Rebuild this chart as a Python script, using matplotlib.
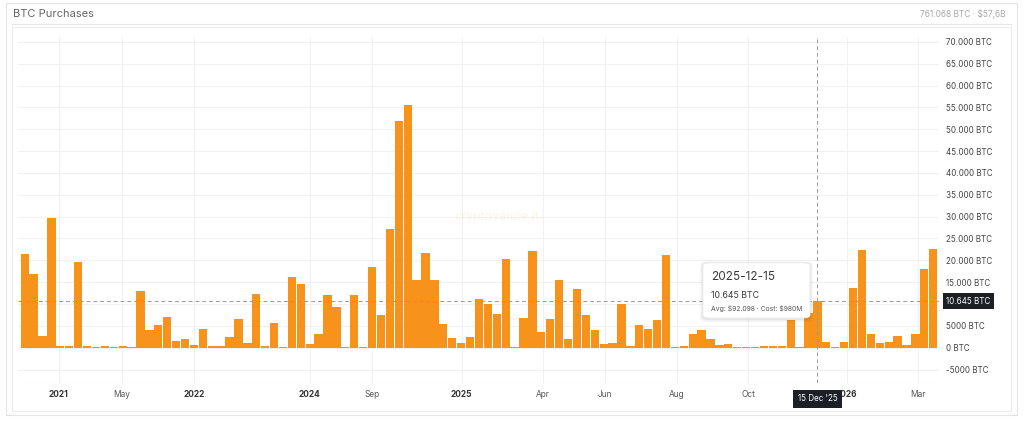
import matplotlib.pyplot as plt
from matplotlib.patches import Rectangle, FancyBboxPatch
from matplotlib.ticker import FuncFormatter

# weekly BTC purchases, thousands of BTC
btc_k = [21.4, 16.9, 2.7, 29.7, 0.4, 0.4, 19.5, 0.3, 0.2, 0.3, 0.2, 0.3, 0.2,
         13.0, 4.0, 5.1, 7.1, 1.5, 2.0, 0.7, 4.2, 0.5, 0.4, 2.5, 6.5, 1.1,
         12.4, 0.5, 5.6, 0.15, 16.2, 14.6, 0.9, 3.1, 12.1, 9.3,
         0.1, 12.0, 0.1, 18.5, 7.4, 27.2, 51.9, 55.5, 15.4, 21.6, 15.4, 5.4,
         2.2, 1.1, 2.5, 11.1, 10.1, 7.8, 20.4, 0.15, 6.9, 22.2, 3.6, 6.6,
         15.4, 2.0, 13.4, 7.5, 4.0, 0.8, 1.1, 10.1, 0.3, 5.1, 4.3, 6.3, 21.1,
         0.2, 0.5, 3.1, 4.0, 2.1, 0.6, 0.8, 0.2, 0.2, 0.1, 0.4, 0.4, 0.5,
         6.3, 0.1, 8.0, 10.645, 1.3, 0.1, 1.4, 13.7, 22.3, 3.1, 1.0, 1.2,
         2.6, 0.6, 3.1, 18.1, 22.5]
btc = [v * 1000 for v in btc_k]

tick_labels = ['2021', 'May', '2022', '2024', 'Sep', '2025', 'Apr', 'Jun',
               'Aug', 'Oct', '2026', 'Mar']
tick_pos = [3.8, 10.9, 19.0, 32.0, 39.0, 49.05, 58.2, 65.1, 73.2, 81.2, 92.3, 100.3]
year_labels = ['2021', '2022', '2024', '2025', '2026']

hover_idx = 89
hover_date = '2025-12-15'
hover_short = "15 Dec '25"
hover_avg = r'\$92.098'
hover_cost = r'\$980M'
total_text = r'761.068 BTC · \$57,6B'

plt.rcParams['font.family'] = ['Inter', 'DejaVu Sans']

W, H = 1024, 422
fig = plt.figure(figsize=(W / 100, H / 100), dpi=100)


def fx(x):
    return x / W


def fy(y):
    return 1 - y / H


# card frames
fig.add_artist(Rectangle((fx(6), fy(415)), fx(1011), (415 - 3) / H,
                         transform=fig.transFigure, fill=False,
                         edgecolor='#e4e4e4', linewidth=0.8))
fig.add_artist(Rectangle((fx(12), fy(411)), fx(999), (411 - 27) / H,
                         transform=fig.transFigure, fill=False,
                         edgecolor='#ececec', linewidth=0.8))
fig.add_artist(plt.Line2D([fx(12), fx(1011)], [fy(23.5), fy(23.5)],
                          transform=fig.transFigure, color='#e6e6e6', linewidth=0.8))
fig.text(fx(13), fy(14), 'BTC Purchases', fontsize=8, color='#666666',
         va='center', ha='left')
fig.text(fx(1006), fy(14), total_text, fontsize=6, color='#a8a8a8',
         va='center', ha='right')

ax = fig.add_axes([fx(18), fy(383), fx(939 - 18), (383 - 37) / H])
ax.set_axisbelow(True)
ax.bar(range(len(btc)), btc, width=0.93, color='#f7931a', zorder=2)

ax.set_xlim(-0.75, 102.65)
ax.set_ylim(-8080, 71100)
ax.set_yticks(range(-5000, 70001, 5000))


def fmt(v, pos):
    v = int(v)
    if v == 10000:
        return ''  # hidden under the crosshair value box
    if abs(v) >= 10000:
        return f'{v:,} BTC'.replace(',', '.')
    return f'{v} BTC'


ax.yaxis.set_major_formatter(FuncFormatter(fmt))
ax.yaxis.tick_right()
ax.tick_params(axis='y', length=0, pad=5, labelsize=5.8, labelcolor='#444444')
ax.set_xticks(tick_pos)
ax.set_xticklabels(tick_labels)
ax.tick_params(axis='x', length=0, pad=5, labelsize=6, labelcolor='#444444')
for lab in ax.get_xticklabels():
    if lab.get_text() in year_labels:
        lab.set_fontweight('bold')
        lab.set_color('#333333')
    else:
        lab.set_color('#555555')
ax.grid(True, color='#f1f1f1', linewidth=0.8)
for s in ax.spines.values():
    s.set_visible(False)
ax.axhline(-8080, color='#e8e8e8', linewidth=0.8)

# watermark
ax.text(53, 30000, 'cryptovalute.it', fontsize=9, color='#f4e4cc', alpha=0.35,
        ha='center', va='center', zorder=1)

# crosshair
hv = btc[hover_idx]
ax.axhline(hv, color='#9a9a9a', linewidth=0.7, linestyle=(0, (4, 3)), zorder=3)
ax.axvline(hover_idx, color='#9a9a9a', linewidth=0.7, linestyle=(0, (4, 3)), zorder=3)
ax.text(1.008, hv, f'{hv:,.0f} BTC'.replace(',', '.'), transform=ax.get_yaxis_transform(),
        fontsize=5.8, color='white', ha='left', va='center', zorder=10, clip_on=False,
        bbox=dict(boxstyle='square,pad=0.45', facecolor='#1c1f26', edgecolor='none'))
ax.text(hover_idx, -0.045, hover_short, transform=ax.get_xaxis_transform(),
        fontsize=5.8, color='white', ha='center', va='center', zorder=10, clip_on=False,
        bbox=dict(boxstyle='square,pad=0.55', facecolor='#1c1f26', edgecolor='none'))

# tooltip
for i, a in enumerate([0.03, 0.03, 0.04]):
    g = 3 - i
    fig.add_artist(FancyBboxPatch((fx(703 - g), fy(319 + g)), fx(107 + 2 * g), (55 + 2 * g) / H,
                                  boxstyle='round,pad=0,rounding_size=0.008',
                                  transform=fig.transFigure, facecolor='black',
                                  edgecolor='none', alpha=a, zorder=20))
fig.add_artist(FancyBboxPatch((fx(703), fy(318)), fx(107), 55 / H,
                              boxstyle='round,pad=0,rounding_size=0.007',
                              transform=fig.transFigure, facecolor='white',
                              edgecolor='#eeeeee', linewidth=0.6, zorder=21))
fig.text(fx(711), fy(277), hover_date, fontsize=8.5, color='#3a3a3a',
         ha='left', va='center', zorder=22)
fig.text(fx(711), fy(295), f'{hv:,.0f} BTC'.replace(',', '.'), fontsize=6.3,
         color='#3a3a3a', ha='left', va='center', zorder=22)
fig.text(fx(711), fy(308), f'Avg: {hover_avg} · Cost: {hover_cost}', fontsize=4.9,
         color='#555555', ha='left', va='center', zorder=22)

fig.savefig('out.png', dpi=100, facecolor='white')
